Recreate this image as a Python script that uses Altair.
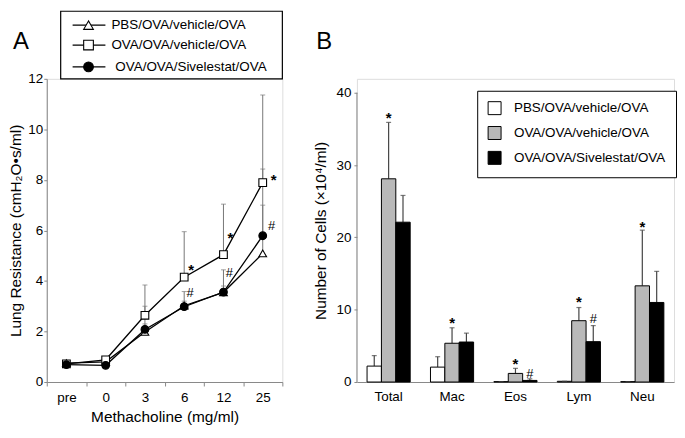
import altair as alt
import pandas as pd

FONT = "Liberation Sans"

# ---------------- Panel A data ----------------
doses = ["pre", "0", "3", "6", "12", "25"]
series = ["PBS/OVA/vehicle/OVA", "OVA/OVA/vehicle/OVA", "OVA/OVA/Sivelestat/OVA"]
pbs_mean = [0.75, 0.80, 1.98, 3.02, 3.55, 5.09]
pbs_top = [0.85, 0.90, 2.30, 3.20, 3.80, 7.00]
ova_mean = [0.72, 0.88, 2.64, 4.15, 5.04, 7.89]
ova_top = [0.85, 1.00, 3.84, 5.95, 7.04, 11.36]
siv_mean = [0.69, 0.66, 2.08, 2.98, 3.56, 5.79]
siv_top = [0.80, 0.75, 3.00, 3.58, 4.44, 8.43]

ann_a_dose = ["6", "12", "25", "6", "12", "25"]
ann_a_text = ["*", "*", "*", "#", "#", "#"]
ann_a_y = [4.6, 5.87, 8.15, 3.55, 4.37, 6.23]

# ---------------- Panel B data ----------------
cells = ["Total", "Mac", "Eos", "Lym", "Neu"]
pbs_b = [2.2, 2.06, 0.05, 0.1, 0.05]
pbs_b_top = [3.65, 3.5, 0.05, 0.1, 0.05]
ova_b = [28.1, 5.36, 1.19, 8.48, 13.3]
ova_b_top = [35.9, 7.5, 1.89, 10.3, 21.0]
siv_b = [22.1, 5.53, 0.22, 5.58, 11.0]
siv_b_top = [25.8, 6.76, 0.44, 7.8, 15.3]

ann_b_cell = ["Total", "Mac", "Eos", "Eos", "Lym", "Lym", "Neu"]
ann_b_series = [series[1], series[1], series[1], series[2], series[1], series[2], series[1]]
ann_b_text = ["*", "*", "*", "#", "*", "#", "*"]
ann_b_y = [37.1, 8.65, 3.07, 1.3, 11.6, 8.8, 22.0]

# ---------------- Build tables ----------------
dfa = pd.DataFrame({
    "dose": doses * 3,
    "idx": list(range(len(doses))) * 3,
    "series": [s for s in series for _ in doses],
    "mean": pbs_mean + ova_mean + siv_mean,
    "top": pbs_top + ova_top + siv_top,
})
dfa_ann = pd.DataFrame({"dose": ann_a_dose, "text": ann_a_text, "y": ann_a_y})

dfb = pd.DataFrame({
    "cell": cells * 3,
    "grp": [s for s in series for _ in cells],
    "value": pbs_b + ova_b + siv_b,
    "top": pbs_b_top + ova_b_top + siv_b_top,
})
dfb_ann = pd.DataFrame({"cell": ann_b_cell, "grp": ann_b_series, "text": ann_b_text, "y": ann_b_y})

W_A, W_B, H = 237, 319, 305
AX = "#888888"
LEG_H = 68

# ---------------- Panel A ----------------
xa = alt.X("dose:N", sort=doses,
           scale=alt.Scale(type="band", domain=doses, paddingInner=0, paddingOuter=0),
           axis=alt.Axis(title="Methacholine (mg/ml)", labelAngle=0, tickBand="extent",
                         tickSize=4, labelPadding=5, labelFontSize=13.5, titleFontSize=15.5,
                         titleFontWeight="normal", titlePadding=5, domainColor=AX, tickColor=AX,
                         labelFont=FONT, titleFont=FONT, labelColor="black"))
ya_scale = alt.Scale(domain=[0, 12], nice=False)
ya = alt.Y("mean:Q", scale=ya_scale,
           axis=alt.Axis(title="Lung Resistance (cmH₂O•s/ml)", values=[0, 2, 4, 6, 8, 10, 12],
                         grid=False, tickSize=3, labelPadding=1, labelFontSize=13.5,
                         titleFontSize=15.5, titleFontWeight="normal", titlePadding=4,
                         domainColor=AX, tickColor=AX, labelFont=FONT, titleFont=FONT,
                         labelColor="black"))

base_a = alt.Chart(dfa)
err_a = base_a.mark_rule(color="#777777", strokeWidth=1).encode(
    x=xa, y=ya, y2="top:Q")
cap_a = base_a.mark_tick(color="#777777", size=5, thickness=1).encode(
    x=xa, y=alt.Y("top:Q", scale=ya_scale))
line_a = base_a.mark_line(color="black", strokeWidth=1.3).encode(
    x=xa, y=ya, detail="series:N", order="idx:Q")
shape_scale = alt.Scale(domain=series, range=["triangle-up", "square", "circle"])
fill_scale_a = alt.Scale(domain=series, range=["white", "white", "black"])
pts_a = base_a.mark_point(filled=True, stroke="black", strokeWidth=1.1, size=60, opacity=1).encode(
    x=xa, y=ya,
    shape=alt.Shape("series:N", scale=shape_scale, legend=None),
    fill=alt.Fill("series:N", scale=fill_scale_a, legend=None))

ann_base = alt.Chart(dfa_ann)
ya_ann = alt.Y("y:Q", scale=ya_scale)
star_a1 = ann_base.transform_filter((alt.datum.dose != "25") & (alt.datum.text == "*")).mark_text(
    font=FONT, fontSize=15, fontWeight="bold", dx=7, dy=4, align="center", baseline="middle").encode(
    x=xa, y=ya_ann, text="text:N")
star_a2 = ann_base.transform_filter((alt.datum.dose == "25") & (alt.datum.text == "*")).mark_text(
    font=FONT, fontSize=15, fontWeight="bold", dx=11, dy=4, align="center", baseline="middle").encode(
    x=xa, y=ya_ann, text="text:N")
hash_a1 = ann_base.transform_filter((alt.datum.dose != "25") & (alt.datum.text == "#")).mark_text(
    font=FONT, fontSize=13, dx=6, dy=1, align="center", baseline="middle").encode(
    x=xa, y=ya_ann, text="text:N")
hash_a2 = ann_base.transform_filter((alt.datum.dose == "25") & (alt.datum.text == "#")).mark_text(
    font=FONT, fontSize=13, dx=9, dy=1, align="center", baseline="middle").encode(
    x=xa, y=ya_ann, text="text:N")

one = pd.DataFrame({"k": [0]})
leg_layers = [
    alt.Chart(one).mark_rect(fill="white", stroke="black", strokeWidth=1.2).encode(
        x=alt.value(14), x2=alt.value(W_A), y=alt.value(-LEG_H), y2=alt.value(0))
]
row_y = [-54, -34, -12]
leg_shapes = ["triangle-up", "square", "circle"]
leg_fills = ["white", "white", "black"]
leg_text_x = [65, 65, 69]
for i, name in enumerate(series):
    leg_layers.append(alt.Chart(one).mark_rule(color="black", strokeWidth=1.2).encode(
        x=alt.value(26), x2=alt.value(59), y=alt.value(row_y[i])))
    leg_layers.append(alt.Chart(one).mark_point(
        filled=True, shape=leg_shapes[i], fill=leg_fills[i], stroke="black",
        strokeWidth=1.1, size=95, opacity=1).encode(
        x=alt.value(42), y=alt.value(row_y[i])))
    leg_layers.append(alt.Chart(pd.DataFrame({"label": [name]})).mark_text(
        font=FONT, fontSize=13.5, align="left", baseline="middle").encode(
        x=alt.value(leg_text_x[i]), y=alt.value(row_y[i]), text="label:N"))

label_a = alt.Chart(one).mark_text(font=FONT, fontSize=24, align="center", baseline="middle").encode(
    x=alt.value(-26), y=alt.value(-37), text=alt.value("A"))

panel_a = alt.layer(err_a, cap_a, line_a, pts_a, star_a1, star_a2, hash_a1, hash_a2,
                    *leg_layers, label_a).properties(width=W_A, height=H)

# ---------------- Panel B ----------------
xb = alt.X("cell:N", sort=cells,
           scale=alt.Scale(domain=cells, paddingInner=0.32, paddingOuter=0.16),
           axis=alt.Axis(title=None, labelAngle=0, ticks=False, labelPadding=8,
                         labelFontSize=13.5, labelFont=FONT, domainColor=AX, labelColor="black"))
xob = alt.XOffset("grp:N", sort=series, scale=alt.Scale(domain=series, paddingInner=0, paddingOuter=0))
yb_scale = alt.Scale(domain=[0, 40 * H / (H - 14)], nice=False)
yb = alt.Y("value:Q", scale=yb_scale,
           axis=alt.Axis(title="Number of Cells (×10⁴/ml)", values=[0, 10, 20, 30, 40], grid=False,
                         domain=False, tickSize=3, labelPadding=3, labelFontSize=13.5,
                         titleFontSize=15.5, titleFontWeight="normal", titlePadding=8,
                         tickColor=AX, labelFont=FONT, titleFont=FONT, labelColor="black"))

base_b = alt.Chart(dfb)
yaxis_line_b = alt.Chart(pd.DataFrame({"a": [0], "b": [40]})).mark_rule(color=AX).encode(
    x=alt.value(0), y=alt.Y("a:Q", scale=yb_scale), y2="b:Q")
err_b = base_b.mark_rule(color="#444444", strokeWidth=1.2).encode(
    x=xb, xOffset=xob, y=yb, y2="top:Q")
cap_b = base_b.mark_tick(color="#444444", size=5, thickness=1.2).encode(
    x=xb, xOffset=xob, y=alt.Y("top:Q", scale=yb_scale))
bars_b = base_b.mark_bar(stroke="black", strokeWidth=1).encode(
    x=xb, xOffset=xob, y=yb,
    fill=alt.Fill("grp:N", sort=series,
                  scale=alt.Scale(domain=series, range=["white", "#b9b9b9", "black"]),
                  legend=alt.Legend(title=None, orient="none", legendX=121, legendY=12,
                                    padding=10, strokeColor="black", fillColor="white",
                                    symbolType="square", symbolSize=170,
                                    symbolStrokeColor="black", symbolStrokeWidth=1,
                                    labelFontSize=13.5, labelFont=FONT, labelOffset=12,
                                    rowPadding=6, labelColor="black")))
ann_b_base = alt.Chart(dfb_ann)
yb_ann = alt.Y("y:Q", scale=yb_scale)
star_b = ann_b_base.transform_filter(alt.datum.text == "*").mark_text(
    font=FONT, fontSize=15, fontWeight="bold", dy=4, align="center", baseline="middle").encode(
    x=xb, xOffset=xob, y=yb_ann, text="text:N")
hash_b = ann_b_base.transform_filter(alt.datum.text == "#").mark_text(
    font=FONT, fontSize=13, dy=1, align="center", baseline="middle").encode(
    x=xb, xOffset=xob, y=yb_ann, text="text:N")
label_b = alt.Chart(one).mark_text(font=FONT, fontSize=24, align="center", baseline="middle").encode(
    x=alt.value(-33), y=alt.value(-37), text=alt.value("B"))

panel_b = alt.layer(yaxis_line_b, err_b, bars_b, cap_b, star_b, hash_b, label_b).properties(
    width=W_B, height=H)

chart = alt.hconcat(panel_a, panel_b, spacing=28).resolve_scale(
    fill="independent", shape="independent", x="independent", y="independent"
).properties(
    padding=0
).configure_view(stroke=None).configure(font=FONT)

chart.save("out.html", embed_options={"renderer": "svg", "actions": False})
